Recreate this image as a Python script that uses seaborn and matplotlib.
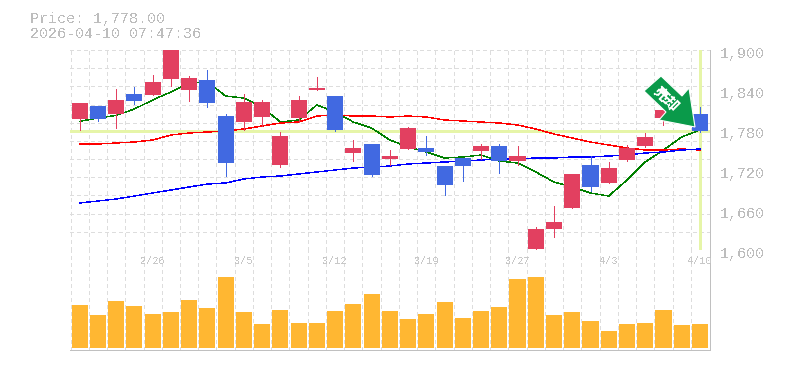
import matplotlib
matplotlib.use("Agg")
import matplotlib.pyplot as plt
from matplotlib.patches import Polygon
from matplotlib.ticker import FuncFormatter
from matplotlib.transforms import Affine2D, ScaledTranslation
import numpy as np
import seaborn as sns

# candle data
opens = [1796.5, 1816, 1804, 1834, 1832.5, 1856.5, 1840, 1855, 1801, 1792, 1799.5, 1727.5,
         1798, 1840, 1831, 1745.5, 1759, 1736.5, 1751.5, 1753, 1726, 1738, 1748.5, 1756,
         1733.5, 1601.5, 1631.5, 1663, 1727.5, 1700.5, 1735, 1756, 1798, 1825, 1804]
closes = [1820.5, 1796.5, 1825, 1823.5, 1852, 1905, 1858, 1820.5, 1730.5, 1822, 1822, 1771,
          1825, 1843, 1780, 1753, 1712.5, 1741, 1783, 1747, 1697.5, 1726, 1756, 1733.5,
          1741, 1631.5, 1642, 1714, 1694.5, 1723, 1753, 1769.5, 1810, 1805, 1778]
highs = [1820.5, 1816, 1841.5, 1844.5, 1862.5, 1905, 1861, 1870, 1804, 1834, 1825, 1777,
         1831, 1859.5, 1831, 1765, 1759, 1750, 1784.5, 1771, 1726, 1738, 1759, 1759,
         1756, 1634.5, 1666, 1714, 1741, 1732, 1757.5, 1775.5, 1812, 1830, 1814.5]
lows = [1780, 1794, 1783, 1819, 1832.5, 1846, 1823.5, 1814.5, 1711, 1780, 1786, 1724.5,
        1792, 1840, 1778.5, 1733.5, 1711, 1727.5, 1751.5, 1742.5, 1682.5, 1703.5, 1736.5, 1715.5,
        1727.5, 1598.5, 1619.5, 1663, 1688.5, 1700.5, 1733.5, 1754.5, 1787.5, 1800, 1777]
ma_short = [1793, 1798, 1802, 1811.5, 1825, 1837, 1850.5, 1852, 1831, 1828, 1814.5, 1792,
            1795, 1817.5, 1807, 1792, 1783, 1765, 1754.5, 1747, 1738, 1739.5, 1742.5, 1733.5,
            1730.5, 1717, 1702, 1694.5, 1685.5, 1681, 1705, 1732, 1750, 1769.5, 1780]
ma_mid = [1759, 1759, 1760.5, 1762, 1765, 1772.5, 1775.5, 1777, 1778.5, 1781.5, 1786, 1790.5,
          1792, 1801, 1802.5, 1801, 1801, 1799.5, 1801, 1799.5, 1795, 1793.5, 1792, 1790.5,
          1787.5, 1781.5, 1774, 1768, 1762, 1757.5, 1753, 1750, 1750, 1751.5, 1750]
ma_long = [1670.5, 1673.5, 1676.5, 1681, 1685.5, 1690, 1694.5, 1699, 1700.5, 1706.5, 1709.5, 1711,
           1714, 1717, 1720, 1723, 1724.5, 1726, 1729, 1730.5, 1732, 1733.5, 1735, 1736.5,
           1736.5, 1738, 1738, 1739.5, 1739.5, 1741, 1742.5, 1745.5, 1747, 1750, 1751.5]
volume = [43, 33, 47, 42, 34, 36, 48, 40, 71, 36, 24, 38, 25, 25, 37, 44, 54, 37,
          29, 34, 46, 30, 37, 41, 69, 71, 33, 36, 27, 17, 24, 25, 38, 23, 24]
date_pos = [4, 9, 14, 19, 24, 29, 34]
date_labels = ["2/26", "3/5", "3/12", "3/19", "3/27", "4/3", "4/10"]
price_ticks = [1600, 1660, 1720, 1780, 1840, 1900]
last_price = 1778
header = ["Price: 1,778.00", "2026-04-10 07:47:36"]

sns.set_theme(style="white")
plt.rcParams["font.family"] = ["Liberation Mono", "DejaVu Sans Mono"]
plt.rcParams["text.antialiased"] = False
plt.rcParams["lines.antialiased"] = False
plt.rcParams["patch.antialiased"] = False

RED = "#e24060"
BLUE = "#4169e1"
ORANGE = "#ffb732"
HILITE = "#e6f5a8"
FRAME = "#c0c0c0"
GRID = "#dddddd"
TXT = "#bdbdbd"
PX = 0.72  # one pixel in points at dpi 100
MA_LW = 0.3  # aliased agg rounds width up, this stays near one pixel

W, H = 785, 370
xs = np.arange(len(opens))
xlim = (-0.53, 34.55)

fig = plt.figure(figsize=(W / 100, H / 100), dpi=100)
ax = fig.add_axes([70 / W, 120 / H, 640 / W, 200 / H])
vol = fig.add_axes([70 / W, 20 / H, 640 / W, 100 / H], sharex=ax)

# grid: one vertical per session, eleven divisions across the price panel
for a in (ax, vol):
    a.set_xlim(*xlim)
    for x in xs - 0.5:
        a.axvline(x, color=GRID, lw=PX, ls=(0, (3, 3)), zorder=0)
for y in np.linspace(1600, 1900, 12):
    ax.axhline(y, color=GRID, lw=PX, ls=(0, (3, 3)), zorder=0)

ax.axhline(last_price, color=HILITE, lw=3 * PX, zorder=1)
ax.plot([xs[-1], xs[-1]], [1602, 1900], color=HILITE, lw=3 * PX, zorder=1)

sns.lineplot(x=xs, y=ma_short, ax=ax, color="#008000", lw=MA_LW, zorder=2)
sns.lineplot(x=xs, y=ma_mid, ax=ax, color="#ff0000", lw=MA_LW, zorder=2)
sns.lineplot(x=xs, y=ma_long, ax=ax, color="#0000ff", lw=MA_LW, zorder=2)

colors = [RED if c >= o else BLUE for o, c in zip(opens, closes)]
ax.vlines(xs, lows, highs, colors=colors, lw=PX, zorder=3)
ax.bar(xs, np.array(closes) - np.array(opens), bottom=opens, width=0.88, color=colors, lw=0, zorder=3)

ax.set_ylim(1600, 1900)
ax.yaxis.tick_right()
ax.set_yticks(price_ticks)
ax.yaxis.set_major_formatter(FuncFormatter(lambda v, _: f"{v:,.0f}"))
ax.tick_params(axis="y", length=0, pad=7, labelsize=10.8, labelcolor=TXT)
ax.tick_params(axis="x", length=0, labelbottom=False)
shift = ScaledTranslation(0, -4 / 100, fig.dpi_scale_trans)
for lab in ax.get_yticklabels():
    lab.set_verticalalignment("center")
    lab.set_transform(lab.get_transform() + shift)
ax.set_ylabel("")
ax.set_xlabel("")
for side in ("left", "top"):
    ax.spines[side].set_visible(False)
for side in ("right", "bottom"):
    ax.spines[side].set_color(FRAME)
    ax.spines[side].set_linewidth(PX)

sns.barplot(x=xs, y=volume, ax=vol, native_scale=True, color=ORANGE, width=0.88, saturation=1, linewidth=0, zorder=2)
vol.set_xlim(*xlim)
vol.set_ylim(-2, 98)
vol.set_yticks([])
vol.tick_params(axis="x", length=0, labelbottom=False)
vol.set_xlabel("")
vol.set_ylabel("")
for side in ("left", "top"):
    vol.spines[side].set_visible(False)
for side in ("right", "bottom"):
    vol.spines[side].set_color(FRAME)
    vol.spines[side].set_linewidth(PX)
for pos, lab in zip(date_pos, date_labels):
    vol.text(pos, 0.89, lab, transform=vol.get_xaxis_transform(), ha="center", va="center",
             fontsize=7.4, color="#c8c8c8", zorder=5)

fig.text(30 / W, 1 - 19 / H, header[0], fontsize=10.8, color=TXT, va="center")
fig.text(30 / W, 1 - 34 / H, header[1], fontsize=10.8, color=TXT, va="center")

# signal arrow, placed in pixels (y measured from the top of the image)
arrow_px = [(661, 76), (682, 96), (689, 88), (695, 127), (659, 120), (666, 112), (644, 91)]
to_disp = Affine2D().scale(1, -1).translate(0, H)
fig.add_artist(Polygon(arrow_px, closed=True, transform=to_disp, facecolor="#0a9a4a",
                       edgecolor="white", lw=0.8, zorder=10, antialiased=True))
fig.text(666 / W, 1 - 99 / H, "売却", rotation=-45, rotation_mode="anchor", ha="center", va="center",
         color="white", fontsize=10.5, fontweight="bold", family=["Noto Sans CJK JP", "DejaVu Sans"],
         zorder=11)

fig.savefig("out.png", dpi=100)
